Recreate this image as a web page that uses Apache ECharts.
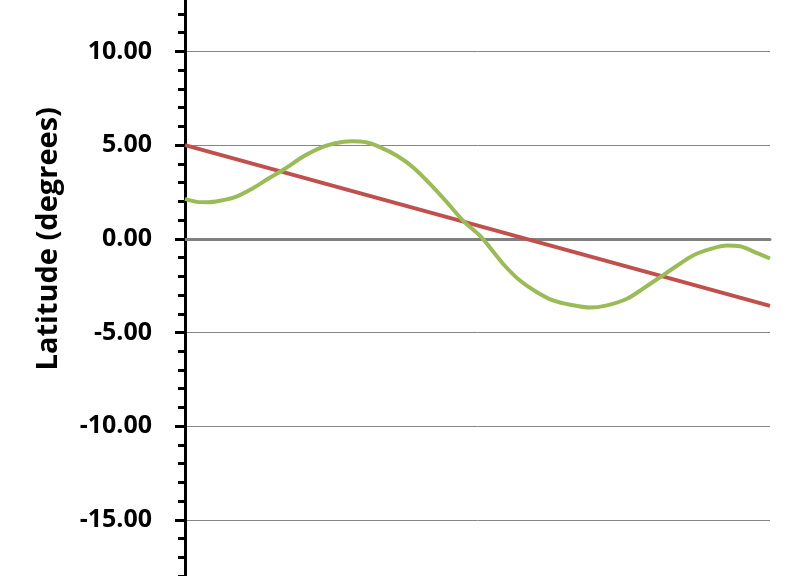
<!DOCTYPE html>
<html>
<head>
<meta charset="utf-8">
<script src="https://cdn.jsdelivr.net/npm/echarts@6/dist/echarts.min.js"></script>
<style>
html,body{margin:0;padding:0;background:#fff;overflow:hidden;width:805px;height:576px;position:relative;}
#chart{position:absolute;left:0;top:-136.5px;width:805px;height:787px;}
</style>
</head>
<body>
<div id="chart"></div>
<script>
// Data (x on a 0..100 hidden scale)
const yAxisName = 'Latitude (degrees)';
const redX = [0, 100];
const redY = [5.0, -3.58];
const greenX = [0, 2.05, 3.93, 5.98, 8.55, 11.45, 14.19, 17.09, 20.0, 22.74, 25.64, 28.55, 30.94, 33.33, 36.24, 38.97, 41.88, 44.79, 47.52, 50.43, 51.62, 54.36, 57.26, 60.17, 62.91, 65.81, 69.23, 72.14, 75.56, 78.29, 81.20, 84.10, 86.84, 89.74, 92.65, 94.87, 96.07, 97.95, 100];
const greenY = [2.13, 1.97, 1.95, 2.03, 2.22, 2.67, 3.20, 3.74, 4.35, 4.80, 5.10, 5.21, 5.15, 4.89, 4.43, 3.82, 2.93, 1.94, 0.97, 0.16, -0.27, -1.33, -2.23, -2.85, -3.29, -3.52, -3.67, -3.55, -3.20, -2.66, -2.05, -1.44, -0.89, -0.55, -0.36, -0.40, -0.53, -0.78, -1.05];

const zip = (xs, ys) => xs.map((x, i) => [x, ys[i]]);

const chart = echarts.init(document.getElementById('chart'), null, {renderer: 'canvas'});
chart.setOption({
  animation: false,
  backgroundColor: '#ffffff',
  grid: {left: 185, right: 35, top: 0, bottom: 37.4, containLabel: false, outerBoundsMode: 'none'},
  xAxis: {
    type: 'value', min: 0, max: 100,
    axisLine: {show: true, onZero: true, lineStyle: {color: '#808080', width: 3}},
    axisTick: {show: false},
    axisLabel: {show: false},
    splitLine: {show: false}
  },
  yAxis: {
    type: 'value', min: -20, max: 20, interval: 5,
    name: yAxisName,
    nameLocation: 'middle',
    nameGap: 122,
    nameRotate: 90,
    nameTextStyle: {fontFamily: 'Open Sans', fontWeight: 'bold', fontSize: 29, color: '#000'},
    axisLine: {show: true, lineStyle: {color: '#000', width: 3}},
    axisTick: {show: true, inside: false, length: 10, lineStyle: {color: '#000', width: 3}},
    minorTick: {show: true, splitNumber: 5, length: 7, lineStyle: {color: '#000', width: 3}},
    axisLabel: {
      margin: 33,
      fontFamily: 'Open Sans', fontWeight: 'bold', fontSize: 25, color: '#000',
      formatter: v => v.toFixed(2)
    },
    splitLine: {show: true, lineStyle: {color: '#868686', width: 1}},
    minorSplitLine: {show: false}
  },
  series: [
    {
      type: 'line', data: zip(redX, redY), symbol: 'none',
      lineStyle: {color: '#C0504D', width: 4}
    },
    {
      type: 'line', data: zip(greenX, greenY), symbol: 'none', smooth: 0.3,
      lineStyle: {color: '#9BBB59', width: 4}
    }
  ]
});
</script>
</body>
</html>
